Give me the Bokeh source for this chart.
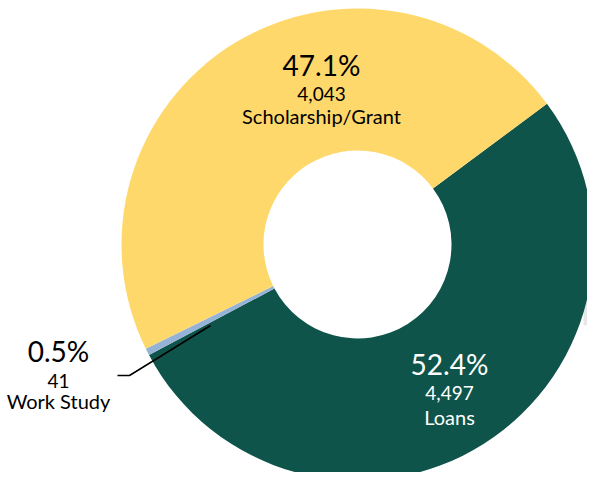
import numpy as np
from bokeh.plotting import figure
from bokeh.models import Range1d, ColumnDataSource
from bokeh.core.properties import value
from bokeh.embed import file_html
from bokeh.resources import INLINE

# ---- data ----
categories = ["Loans", "Work Study", "Scholarship/Grant"]
counts = [4497, 41, 4043]
colors = ["#0E544A", "#95B3D7", "#FFD86B"]
pct_labels = ["52.4%", "0.5%", "47.1%"]
count_labels = ["4,497", "41", "4,043"]

# ---- geometry (pixel-like data space; y measured upward) ----
W, H = 587, 472
cx, cy = 357, 480 - 244
r_out, r_in = 236, 94
start_deg = 36.6

total = float(sum(counts))
frac = np.array(counts) / total
cum = np.concatenate([[0], np.cumsum(frac)])
a0 = np.deg2rad(start_deg)
starts = a0 - cum[:-1] * 2 * np.pi
ends = a0 - cum[1:] * 2 * np.pi

p = figure(width=W, height=H, output_backend="svg", toolbar_location=None,
           x_range=Range1d(0, W), y_range=Range1d(480 - H, 480),
           min_border=0, outline_line_color=None, background_fill_color="white",
           border_fill_color="white")
p.axis.visible = False
p.grid.visible = False

# faint grey strip near right edge
p.quad(left=[583], right=[588], bottom=[480 - 325], top=[480 - 200],
       fill_color="#e7e7e7", line_color=None)

src = ColumnDataSource(dict(x=[cx] * 3, y=[cy] * 3, start=starts, end=ends,
                            color=colors, cat=categories))
p.annular_wedge(x="x", y="y", inner_radius=r_in, outer_radius=r_out,
                start_angle="start", end_angle="end", direction="clock",
                fill_color="color", line_color=None, source=src)

# leader line for Work Study
p.line(x=[117, 129, 210], y=[480 - 375, 480 - 375, 480 - 325],
       line_color="black", line_width=1.5)

font = value("Lato")
lab_x = [449, 58, 321]
pct_base = [363, 350, 64]
cnt_base = [392, 380, 93]
name_base = [416, 400, 115]
txt_colors = ["white", "black", "black"]

for i in range(3):
    p.text(x=[lab_x[i]], y=[480 - pct_base[i]], text=[pct_labels[i]],
           text_font=font, text_font_size="28px", text_color=txt_colors[i],
           text_align="center", text_baseline="alphabetic")
    p.text(x=[lab_x[i]], y=[480 - cnt_base[i]], text=[count_labels[i]],
           text_font=font, text_font_size="19px", text_color=txt_colors[i],
           text_align="center", text_baseline="alphabetic")
    p.text(x=[lab_x[i]], y=[480 - name_base[i]], text=[categories[i]],
           text_font=font, text_font_size="20px", text_color=txt_colors[i],
           text_align="center", text_baseline="alphabetic")

open("out.html", "w").write(file_html(p, INLINE))
